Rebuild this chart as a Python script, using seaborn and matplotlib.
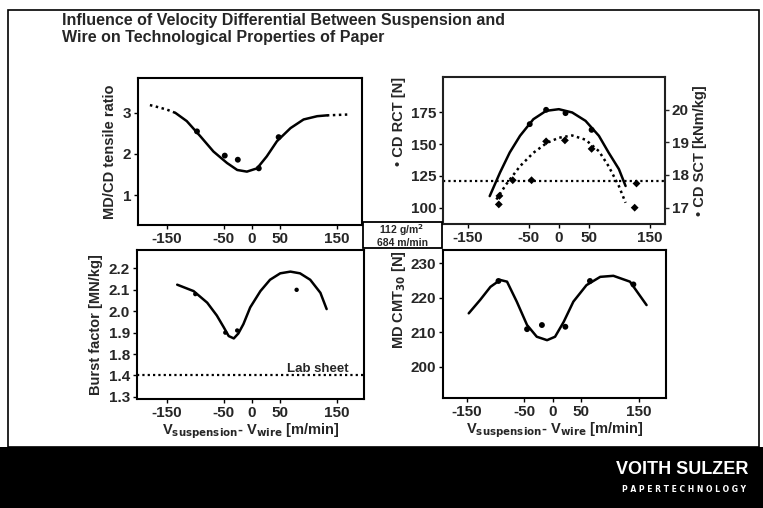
import numpy as np
import pandas as pd
import matplotlib
matplotlib.use('Agg')
import matplotlib.pyplot as plt
import seaborn as sns
from matplotlib.patches import Rectangle

sns.set_theme(style='white')
plt.rcParams['font.family'] = ['Liberation Sans', 'DejaVu Sans']
plt.rcParams['font.weight'] = 'bold'
plt.rcParams['mathtext.default'] = 'bf'

# ---- data ----
xticks = [-150, -50, 0, 50, 150]

# MD/CD tensile ratio
tr_curve_x = [-135, -115, -91, -68, -44, -26, -9, 9, 26, 44, 68, 91, 115, 132]
tr_curve_y = [3.0, 2.8, 2.43, 2.06, 1.78, 1.61, 1.57, 1.65, 1.94, 2.31, 2.63, 2.84, 2.92, 2.94]
tr_dotl_x = [-180, -171, -150, -135]
tr_dotl_y = [3.19, 3.16, 3.08, 3.0]
tr_dotr_x = [132, 150, 168]
tr_dotr_y = [2.94, 2.95, 2.96]
tr_pts_x = [-97, -48, -25, 12, 47]
tr_pts_y = [2.55, 1.96, 1.86, 1.65, 2.41]

# CD RCT (left) and CD SCT (right)
rct_curve_x = [-114, -97, -81, -64, -42, -21, 0, 22, 44, 66, 82, 99, 110]
rct_curve_y = [109, 127.6, 143.4, 156.6, 169.7, 176.3, 177.6, 175, 168.4, 156.6, 143.4, 130.3, 117]
rct_pts_x = [-48, -21, 11, 54]
rct_pts_y = [165.8, 177.1, 174.5, 161.3]
sct_curve_x = [-103, -87, -64, -42, -20, 0, 22, 44, 66, 82, 99, 110]
sct_curve_y = [17.25, 17.71, 18.27, 18.68, 18.98, 19.14, 19.21, 19.08, 18.73, 18.27, 17.66, 17.15]
sct_pts_x = [-99, -98, -76, -45, -21, 10, 54, 125, 128]
sct_pts_y = [17.1, 17.36, 17.84, 17.84, 19.03, 19.06, 18.8, 17.0, 17.74]
rct_ref = 121

# Burst factor
bf_curve_x = [-132, -103, -79, -62, -50, -41, -32, -24, -15, -3, 15, 32, 50, 68, 85, 103, 121, 132]
bf_curve_y = [2.124, 2.094, 2.04, 1.98, 1.926, 1.884, 1.873, 1.896, 1.94, 2.018, 2.094, 2.147, 2.177,
              2.185, 2.177, 2.147, 2.086, 2.01]
bf_pts_x = [-100, -47, -26, 79]
bf_pts_y = [2.08, 1.9, 1.91, 2.1]
bf_lab = 1.4
bf_ticks = [1.3, 1.4, 1.8, 1.9, 2.0, 2.1, 2.2]

# MD CMT30
cmt_curve_x = [-147, -127, -109, -92, -80, -63, -45, -28, -10, 4, 19, 36, 59, 83, 106, 135, 164]
cmt_curve_y = [215.5, 219.4, 223.2, 225.2, 224.7, 218.9, 212.1, 208.7, 207.7, 208.7, 213, 218.9,
               223.7, 226.1, 226.4, 224.7, 217.9]
cmt_pts_x = [-95, -45, -19, 22, 65, 141]
cmt_pts_y = [224.9, 210.9, 212.1, 211.6, 224.9, 223.9]

W, H = 763, 508
fig = plt.figure(figsize=(W / 100, H / 100), dpi=100)
fig.patch.set_facecolor('white')


def box(l, t, r, b):
    return [l / W, 1 - b / H, (r - l) / W, (b - t) / H]


dotted = (0, (1, 1.4))
lw = 1.8


def style(ax):
    for s in ax.spines.values():
        s.set_visible(True)
        s.set_color('black')
        s.set_linewidth(1.5)
    ax.tick_params(axis='both', direction='out', length=3, width=1, color='black',
                   labelsize=11, pad=2, left=True, bottom=True)
    ax.set_xticks(xticks)
    ax.set_xticklabels([str(v) for v in xticks], fontweight='bold')
    ax.set_facecolor('white')


def curve(ax, x, y, ls='-'):
    sns.lineplot(x=x, y=y, ax=ax, color='black', lw=lw, ls=ls, sort=False, estimator=None,
                 solid_joinstyle='round', solid_capstyle='round')


xlab = r'V$_{suspension}$- V$_{wire}$ [m/min]'

# --- top left ---
ax1 = fig.add_axes(box(138, 78, 362, 225))
curve(ax1, tr_curve_x, tr_curve_y)
curve(ax1, tr_dotl_x, tr_dotl_y, dotted)
curve(ax1, tr_dotr_x, tr_dotr_y, dotted)
sns.scatterplot(x=tr_pts_x, y=tr_pts_y, ax=ax1, color='black', s=18, edgecolor='none')
ax1.set_xlim(-201, 194)
ax1.set_ylim(0.27, 3.85)
style(ax1)
ax1.set_yticks([1, 2, 3])
ax1.set_yticklabels(['1', '2', '3'], fontweight='bold')
ax1.set_ylabel('MD/CD tensile ratio', fontsize=10.5, fontweight='bold', labelpad=4)

# --- top right ---
ax2 = fig.add_axes(box(443, 77, 665, 224))
ax2.axhline(rct_ref, color='black', lw=1.6, ls=dotted)
curve(ax2, rct_curve_x, rct_curve_y)
sns.scatterplot(x=rct_pts_x, y=rct_pts_y, ax=ax2, color='black', s=18, edgecolor='none')
ax2.set_xlim(-191, 175)
ax2.set_ylim(87, 203)
style(ax2)
ax2.set_yticks([100, 125, 150, 175])
ax2.set_yticklabels(['100', '125', '150', '175'], fontweight='bold')
ax2.set_ylabel('• CD RCT [N]', fontsize=10.5, fontweight='bold', loc='top', labelpad=3)
ax2r = ax2.twinx()
curve(ax2r, sct_curve_x, sct_curve_y, dotted)
sns.scatterplot(x=sct_pts_x, y=sct_pts_y, ax=ax2r, color='black', marker='D', s=16, edgecolor='none')
ax2r.set_ylim(16.5, 21.0)
ax2r.set_yticks([17, 18, 19, 20])
ax2r.set_yticklabels(['17', '18', '19', '20'], fontweight='bold')
ax2r.tick_params(axis='y', direction='out', length=3, width=1, labelsize=11, pad=2, right=True)
ax2r.set_ylabel('• CD SCT [kNm/kg]', fontsize=10.5, fontweight='bold', labelpad=3)
ax2r.grid(False)

# --- bottom left (broken scale 1.4 -> 1.8) ---
def fwd(v):
    v = np.asarray(v, dtype=float)
    return np.where(v >= 1.8, v, np.where(v >= 1.4, 1.7 + (v - 1.4) * 0.25, v + 0.3))


def inv(u):
    u = np.asarray(u, dtype=float)
    return np.where(u >= 1.8, u, np.where(u >= 1.7, 1.4 + (u - 1.7) * 4, u - 0.3))


ax3 = fig.add_axes(box(137, 250, 364, 399))
ax3.set_yscale('function', functions=(fwd, inv))
ax3.axhline(bf_lab, color='black', lw=1.6, ls=dotted)
curve(ax3, bf_curve_x, bf_curve_y)
sns.scatterplot(x=bf_pts_x, y=bf_pts_y, ax=ax3, color='black', s=10, edgecolor='none')
ax3.set_xlim(-203, 198)
ax3.set_ylim(1.29, 2.286)
style(ax3)
ax3.set_yticks(bf_ticks)
ax3.set_yticklabels([f'{v:.1f}' for v in bf_ticks], fontweight='bold')
ax3.minorticks_off()
ax3.text(170, 1.415, 'Lab sheet', ha='right', va='bottom', fontsize=9.5, fontweight='bold')
ax3.set_ylabel('Burst factor [MN/kg]', fontsize=10.5, fontweight='bold', labelpad=4)
ax3.set_xlabel(xlab, fontsize=10.5, fontweight='bold', labelpad=1)

# --- bottom right ---
ax4 = fig.add_axes(box(443, 250, 666, 398))
curve(ax4, cmt_curve_x, cmt_curve_y)
sns.scatterplot(x=cmt_pts_x, y=cmt_pts_y, ax=ax4, color='black', s=18, edgecolor='none')
ax4.set_xlim(-192, 198)
ax4.set_ylim(190.9, 233.9)
style(ax4)
ax4.set_yticks([200, 210, 220, 230])
ax4.set_yticklabels(['200', '210', '220', '230'], fontweight='bold')
ax4.set_ylabel(r'MD CMT$_{30}$ [N]', fontsize=10.5, fontweight='bold', loc='top', labelpad=2)
ax4.set_xlabel(xlab, fontsize=10.5, fontweight='bold', labelpad=1)

# --- slide decoration ---
fig.add_artist(Rectangle((8 / W, 61 / H), 751 / W, 437 / H, fill=False,
                         edgecolor='black', lw=1.2, transform=fig.transFigure))
fig.add_artist(Rectangle((0, 0), 1, 61 / H, facecolor='black', edgecolor='none',
                         transform=fig.transFigure))
fig.text(62 / W, 1 - 13 / H, 'Influence of Velocity Differential Between Suspension and\n'
         'Wire on Technological Properties of Paper', ha='left', va='top',
         fontsize=11.5, fontweight='bold', linespacing=1.15)
fig.add_artist(Rectangle((363 / W, 1 - 248 / H), 79 / W, 26 / H, fill=False, edgecolor='black',
                         lw=1.3, transform=fig.transFigure))
fig.text(402 / W, 1 - 235 / H, '112 g/m$^2$\n684 m/min', ha='center', va='center',
         fontsize=7.5, fontweight='bold', linespacing=1.0)
fig.text(748 / W, 1 - 469 / H, 'VOITH SULZER', ha='right', va='center', color='white',
         fontsize=13, fontweight='bold', family=['Liberation Sans Narrow', 'Liberation Sans'])
fig.text(746 / W, 1 - 489 / H, 'P A P E R T E C H N O L O G Y', ha='right', va='center', color='white',
         fontsize=5.5, fontweight='bold', family='DejaVu Sans')

fig.savefig('out.png', dpi=100)
